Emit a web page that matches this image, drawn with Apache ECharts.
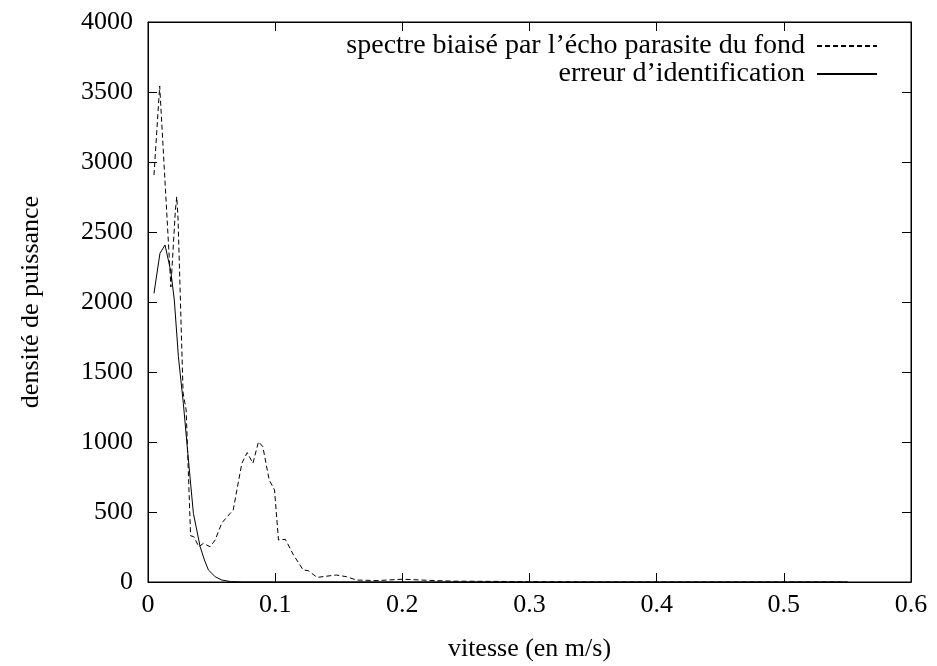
<!DOCTYPE html>
<html><head><meta charset="utf-8">
<script src="https://cdn.jsdelivr.net/npm/echarts@6/dist/echarts.min.js"></script>
<style>html,body{margin:0;padding:0;background:#fff}#c{width:937px;height:666px}</style>
</head><body><div id="c"></div>
<script>
const seriesNames = ["spectre biaisé par l\u2019écho parasite du fond", "erreur d\u2019identification"];
const xDash = [0.0047,0.0092,0.018,0.0215,0.0226,0.0236,0.0276,0.030,0.0335,0.036,0.040,0.0436,0.0488,0.0528,0.058,0.0646,0.067,0.0738,0.078,0.0825,0.0869,0.0903,0.0953,0.0995,0.1026,0.108,0.1144,0.122,0.126,0.133,0.148,0.156,0.164,0.18,0.2,0.22,0.24,0.26,0.28,0.3,0.35,0.4,0.45,0.5,0.55];
const yDash = [2907,3543,2107,2650,2752,2600,1350,1230,330,324,252,276,252,300,421,490,514,848,924,848,1002,966,729,657,300,305,193,86,81,33,50,38,14,10,20,12,6,5,4,2,0,0,0,0,0];
const xSolid = [0.0047,0.0094,0.0134,0.018,0.0207,0.0239,0.0278,0.0318,0.0357,0.041,0.0444,0.0475,0.0528,0.058,0.065,0.075,0.1,0.2,0.3,0.4,0.5,0.55];
const ySolid = [2062,2348,2407,2216,2014,1609,1276,871,490,252,157,86,38,14,3,0,0,0,0,0,0,0];
const xTicks = [0,0.1,0.2,0.3,0.4,0.5,0.6];
const yTicks = [0,500,1000,1500,2000,2500,3000,3500,4000];

const font = "Liberation Serif";
const FS = 26;
const chart = echarts.init(document.getElementById('c'));
function axisLine(){ return {show:true, onZero:false, lineStyle:{color:'#000', width:1}}; }
function tick(){ return {show:true, inside:true, length:9, lineStyle:{color:'#000', width:1}}; }
chart.setOption({
  animation:false,
  backgroundColor:'#fff',
  textStyle:{fontFamily:font},
  grid:{left:148, right:26, top:22, bottom:84, show:true, borderColor:'#000', borderWidth:1,
        backgroundColor:'transparent', containLabel:false, outerBoundsMode:'none'},
  legend:{
    orient:'vertical', right:59, top:32, padding:0, align:'right', itemWidth:60, itemHeight:14, itemGap:0,
    textStyle:{fontFamily:font, fontSize:28, color:'#000', lineHeight:28},
    itemStyle:{opacity:0},
    formatter: n => n + ' ',
    data: seriesNames.map(n=>({name:n}))
  },
  xAxis:[
    {type:'value', min:xTicks[0], max:xTicks[xTicks.length-1], interval:0.1, position:'bottom',
     axisLine:axisLine(), axisTick:tick(), splitLine:{show:false},
     axisLabel:{color:'#000', fontSize:FS, fontFamily:font, margin:10, formatter:v=>String(v)},
     name:'vitesse (en m/s)', nameLocation:'middle', nameGap:54,
     nameTextStyle:{color:'#000', fontSize:FS, fontFamily:font}},
    {type:'value', min:0, max:0.6, interval:0.1, position:'top',
     axisLine:axisLine(), axisTick:tick(), axisLabel:{show:false}, splitLine:{show:false}}
  ],
  yAxis:[
    {type:'value', min:yTicks[0], max:yTicks[yTicks.length-1], interval:500, position:'left',
     axisLine:axisLine(), axisTick:tick(), splitLine:{show:false},
     axisLabel:{color:'#000', fontSize:FS, fontFamily:font, margin:15, formatter:v=>String(v)},
     name:'densité de puissance', nameLocation:'middle', nameGap:104, nameRotate:90,
     nameTextStyle:{color:'#000', fontSize:FS, fontFamily:font}},
    {type:'value', min:0, max:4000, interval:500, position:'right',
     axisLine:axisLine(), axisTick:tick(), axisLabel:{show:false}, splitLine:{show:false}}
  ],
  series:[
    {name:seriesNames[0], type:'line', symbol:'none', xAxisIndex:0, yAxisIndex:0,
     data:xDash.map((x,i)=>[x,yDash[i]]),
     lineStyle:{color:'#000', width:1, type:[5,3]}, itemStyle:{color:'#000'}},
    {name:seriesNames[1], type:'line', symbol:'none', xAxisIndex:0, yAxisIndex:0,
     data:xSolid.map((x,i)=>[x,ySolid[i]]),
     lineStyle:{color:'#000', width:1, type:'solid'}, itemStyle:{color:'#000'}},
    {name:'_mirror', type:'line', symbol:'none', xAxisIndex:1, yAxisIndex:1, silent:true,
     data:[], lineStyle:{opacity:0}}
  ]
});
</script></body></html>
